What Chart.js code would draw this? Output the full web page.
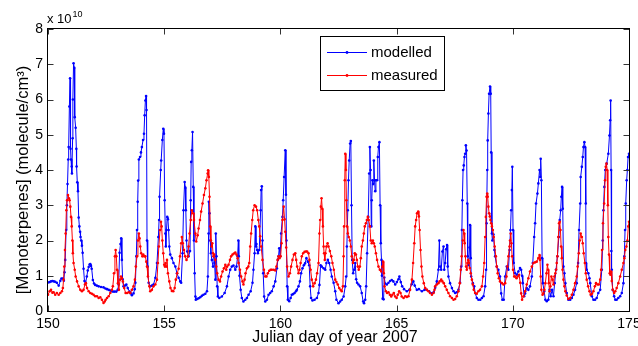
<!DOCTYPE html>
<html><head><meta charset="utf-8">
<script src="https://cdn.jsdelivr.net/npm/chart.js@4/dist/chart.umd.min.js"></script>
<style>html,body{margin:0;padding:0;background:#fff}#wrap{width:638px;height:346px;position:relative}</style>
</head><body><div id="wrap"><canvas id="c" width="638" height="346"></canvas></div>
<script>
const FONT = '"Liberation Sans", Arial, Helvetica, sans-serif';
const seriesLabels = ['modelled', 'measured'];
const xTicks = [150, 155, 160, 165, 170, 175];
const yTicks = [0, 1, 2, 3, 4, 5, 6, 7, 8];
const xTitle = 'Julian day of year 2007';
const yTitle = '[Monoterpenes] (molecule/cm³)';
const yExponent = '10';

// [day, value in 1e10 molecule/cm3]
const modelled = [
[150.00,0.81],[150.07,0.82],[150.13,0.84],[150.19,0.85],[150.25,0.84],[150.31,0.83],[150.38,0.80],[150.46,0.72],[150.53,0.86],[150.58,0.92],
[150.64,0.92],[150.68,0.86],[150.71,1.1],[150.74,1.45],[150.78,2.3],[150.81,3.0],[150.84,3.6],[150.87,4.3],[150.89,4.65],[150.92,5.8],
[150.95,6.6],[150.97,4.6],[150.99,4.3],[151.02,4.1],[151.03,3.9],[151.06,4.9],[151.07,6.0],[151.10,7.03],[151.13,6.9],[151.15,5.5],
[151.19,5.2],[151.22,4.6],[151.23,4.1],[151.26,3.65],[151.29,3.4],[151.32,2.65],[151.35,2.4],[151.38,2.25],[151.40,2.1],[151.43,2.0],
[151.46,1.85],[151.49,1.65],[151.53,1.2],[151.57,0.85],[151.62,0.80],[151.67,0.98],[151.71,1.15],[151.75,1.25],[151.79,1.32],[151.82,1.33],
[151.85,1.28],[151.88,1.2],[151.93,0.88],[151.98,0.78],[152.03,0.74],[152.10,0.72],[152.18,0.70],[152.28,0.68],[152.39,0.67],[152.47,0.64],
[152.54,0.62],[152.61,0.60],[152.68,0.58],[152.74,0.56],[152.80,0.55],[152.87,0.55],[152.94,0.55],[153.00,0.6],[153.04,0.75],[153.08,1.65],
[153.12,1.9],[153.15,2.06],[153.18,1.45],[153.21,0.9],[153.25,0.70],[153.31,0.72],[153.37,0.75],[153.43,0.65],[153.51,0.55],[153.56,0.50],
[153.61,0.45],[153.68,0.50],[153.73,0.62],[153.76,0.80],[153.80,1.55],[153.83,2.3],[153.86,3.1],[153.88,3.7],[153.91,4.3],[153.96,4.37],
[154.00,4.5],[154.04,4.65],[154.09,4.85],[154.13,5.03],[154.16,5.55],[154.19,5.97],[154.22,6.1],[154.24,5.7],[154.26,2.0],[154.29,1.26],
[154.33,0.8],[154.40,0.70],[154.47,0.72],[154.54,0.75],[154.62,0.94],[154.69,1.36],[154.75,2.1],[154.78,2.58],[154.80,3.24],[154.85,4.0],
[154.87,4.27],[154.92,4.85],[154.96,5.17],[154.99,5.03],[155.02,3.14],[155.05,2.2],[155.07,1.83],[155.10,2.3],[155.13,2.67],[155.16,2.6],
[155.19,2.3],[155.22,1.83],[155.26,1.6],[155.33,1.5],[155.40,1.36],[155.48,1.26],[155.55,1.07],[155.62,0.94],[155.69,0.84],[155.73,0.80],
[155.79,1.64],[155.83,2.86],[155.88,3.66],[155.91,3.5],[155.93,2.86],[155.96,2.0],[155.99,1.69],[156.05,1.55],[156.11,1.7],[156.14,3.14],
[156.16,4.23],[156.19,4.56],[156.22,5.08],[156.25,3.52],[156.28,2.0],[156.31,1.07],[156.34,0.41],[156.36,0.32],[156.42,0.34],[156.48,0.36],
[156.55,0.39],[156.62,0.43],[156.69,0.46],[156.77,0.49],[156.84,0.56],[156.88,0.98],[156.91,2.2],[156.92,3.1],[156.95,2.77],[156.98,2.0],
[157.01,1.64],[157.05,1.45],[157.10,1.26],[157.14,1.55],[157.17,1.36],[157.20,0.89],[157.22,2.2],[157.25,1.55],[157.28,0.7],[157.31,0.41],
[157.37,0.37],[157.48,0.41],[157.60,0.51],[157.70,0.7],[157.77,0.98],[157.84,1.17],[157.91,1.26],[157.98,1.29],[158.06,1.17],[158.11,1.26],
[158.16,1.55],[158.19,2.0],[158.21,1.55],[158.24,1.0],[158.29,0.6],[158.34,0.37],[158.41,0.27],[158.49,0.32],[158.56,0.37],[158.63,0.46],
[158.72,0.56],[158.80,0.8],[158.84,1.17],[158.89,1.64],[158.92,2.4],[158.95,1.83],[158.97,1.9],[159.00,1.73],[159.03,1.64],[159.09,1.73],
[159.15,2.86],[159.17,3.43],[159.20,3.54],[159.23,2.0],[159.26,1.07],[159.30,0.41],[159.35,0.27],[159.42,0.32],[159.49,0.46],[159.56,0.51],
[159.63,0.56],[159.71,0.7],[159.78,0.84],[159.85,1.21],[159.89,1.45],[159.92,1.55],[159.95,1.78],[159.99,1.55],[160.03,2.2],[160.09,2.67],
[160.12,3.14],[160.16,3.8],[160.21,4.56],[160.24,3.3],[160.26,2.0],[160.29,0.7],[160.32,0.32],[160.38,0.28],[160.44,0.37],[160.49,0.46],
[160.55,0.48],[160.61,0.51],[160.67,0.56],[160.71,0.6],[160.78,0.7],[160.84,0.84],[160.89,1.07],[160.95,1.21],[161.01,1.3],[161.06,1.35],
[161.12,1.5],[161.18,1.4],[161.24,1.3],[161.28,0.7],[161.32,0.37],[161.38,0.30],[161.47,0.32],[161.57,0.37],[161.64,0.51],[161.68,0.74],
[161.73,1.3],[161.78,1.26],[161.86,1.21],[161.93,1.17],[161.98,1.36],[162.04,1.45],[162.10,1.36],[162.16,1.17],[162.21,0.98],[162.29,0.8],
[162.36,0.56],[162.41,0.32],[162.50,0.22],[162.57,0.27],[162.64,0.32],[162.72,0.41],[162.79,0.7],[162.83,0.98],[162.86,1.83],[162.90,2.86],
[162.93,3.71],[162.96,4.27],[163.00,4.75],[163.03,4.82],[163.06,3.0],[163.09,1.45],[163.13,1.07],[163.17,1.17],[163.22,1.36],[163.26,0.9],
[163.30,0.8],[163.36,0.75],[163.43,0.7],[163.50,0.51],[163.56,0.27],[163.60,0.22],[163.65,0.32],[163.69,0.7],[163.73,1.64],[163.78,2.67],
[163.82,3.9],[163.85,4.65],[163.88,4.0],[163.91,2.4],[163.93,3.14],[163.96,3.71],[163.99,3.6],[164.02,4.27],[164.05,3.71],[164.08,3.4],
[164.11,3.71],[164.16,3.71],[164.19,4.37],[164.22,4.65],[164.26,4.79],[164.29,3.0],[164.32,1.92],[164.35,1.45],[164.37,1.0],[164.40,0.35],
[164.44,0.33],[164.47,0.95],[164.51,0.78],[164.58,0.75],[164.65,0.8],[164.72,0.85],[164.79,0.88],[164.86,0.84],[164.94,0.75],[165.01,0.82],
[165.08,0.9],[165.12,0.98],[165.18,0.82],[165.24,0.7],[165.32,0.62],[165.44,0.56],[165.55,0.6],[165.65,0.76],[165.72,0.84],[165.78,0.72],
[165.87,0.6],[165.96,0.62],[166.09,0.56],[166.20,0.60],[166.30,0.6],[166.40,0.56],[166.52,0.5],[166.60,0.54],[166.66,0.66],[166.73,0.84],
[166.80,1.17],[166.84,2.0],[166.87,1.26],[166.92,1.17],[166.97,1.69],[167.02,1.83],[167.05,1.17],[167.09,1.36],[167.13,1.75],[167.17,1.87],
[167.20,1.26],[167.23,0.98],[167.30,0.79],[167.38,0.65],[167.45,0.56],[167.52,0.51],[167.59,0.53],[167.66,0.6],[167.73,0.8],[167.78,1.26],
[167.81,2.3],[167.83,3.14],[167.86,4.0],[167.89,4.13],[167.92,4.37],[167.95,4.46],[167.98,4.7],[168.01,4.55],[168.04,3.05],[168.06,1.55],
[168.10,1.3],[168.14,1.8],[168.16,2.44],[168.19,1.5],[168.21,0.98],[168.28,0.79],[168.34,0.7],[168.38,0.51],[168.45,0.37],[168.52,0.32],
[168.60,0.32],[168.67,0.37],[168.74,0.42],[168.81,0.7],[168.85,1.17],[168.87,2.49],[168.90,4.0],[168.92,4.84],[168.95,5.6],[168.98,6.16],
[169.02,6.37],[169.05,6.16],[169.07,4.5],[169.10,2.2],[169.12,2.0],[169.17,2.17],[169.21,1.73],[169.24,1.55],[169.31,1.26],[169.38,1.17],
[169.45,0.98],[169.50,0.5],[169.55,0.32],[169.61,0.32],[169.67,0.98],[169.74,1.26],[169.81,1.17],[169.86,1.73],[169.90,2.3],[169.93,2.86],
[169.96,3.43],[169.98,4.09],[170.01,2.3],[170.04,1.36],[170.10,1.07],[170.17,1.03],[170.24,1.12],[170.31,1.22],[170.36,1.17],[170.40,1.0],
[170.43,0.79],[170.49,0.42],[170.53,0.5],[170.60,0.65],[170.67,0.6],[170.74,0.7],[170.82,0.98],[170.86,1.36],[170.92,2.1],[170.96,2.49],
[171.00,3.05],[171.06,3.33],[171.10,3.62],[171.15,4.0],[171.18,3.8],[171.20,4.32],[171.23,3.71],[171.26,1.5],[171.29,0.79],[171.35,0.56],
[171.40,0.32],[171.46,0.28],[171.53,0.32],[171.58,0.6],[171.63,0.42],[171.69,0.6],[171.75,0.42],[171.80,0.79],[171.86,1.17],[171.92,1.55],
[171.98,2.1],[172.02,2.58],[172.06,2.86],[172.09,3.24],[172.12,3.52],[172.15,2.9],[172.18,1.26],[172.22,1.07],[172.26,0.79],[172.32,0.51],
[172.39,0.32],[172.47,0.32],[172.54,0.37],[172.61,0.46],[172.68,0.6],[172.75,0.79],[172.81,1.36],[172.85,2.3],[172.90,3.05],[172.92,3.8],
[172.97,4.09],[173.01,4.37],[173.04,4.65],[173.08,4.79],[173.11,4.65],[173.14,3.05],[173.15,1.36],[173.18,1.17],[173.25,1.07],[173.30,0.93],
[173.33,0.79],[173.40,0.42],[173.47,0.32],[173.54,0.32],[173.61,0.37],[173.68,0.51],[173.76,0.6],[173.83,1.17],[173.87,2.0],[173.90,2.86],
[173.94,3.52],[173.98,4.0],[174.04,4.18],[174.11,4.46],[174.16,4.98],[174.19,5.41],[174.21,5.97],[174.23,4.0],[174.24,1.7],[174.26,1.17],
[174.30,0.6],[174.36,0.42],[174.41,0.32],[174.47,0.32],[174.54,0.37],[174.62,0.42],[174.69,0.51],[174.76,0.79],[174.80,1.55],[174.83,2.3],
[174.86,3.05],[174.90,3.71],[174.93,4.0],[174.96,4.37],[175.00,4.46]
];

const measured = [
[150.00,0.46],[150.07,0.56],[150.13,0.60],[150.19,0.52],[150.24,0.53],[150.31,0.46],[150.38,0.51],[150.46,0.46],[150.53,0.51],[150.60,0.56],
[150.64,0.65],[150.67,0.89],[150.70,1.26],[150.73,1.73],[150.76,2.2],[150.79,2.86],[150.82,3.14],[150.86,3.29],[150.90,3.2],[150.93,3.14],
[150.96,2.96],[150.99,2.67],[151.02,2.4],[151.05,2.0],[151.07,1.64],[151.10,1.36],[151.15,1.17],[151.19,0.98],[151.25,0.84],[151.32,0.7],
[151.39,0.6],[151.46,0.56],[151.53,0.6],[151.59,0.75],[151.63,0.79],[151.68,0.65],[151.75,0.56],[151.82,0.51],[151.89,0.49],[151.96,0.46],
[152.03,0.42],[152.11,0.42],[152.18,0.37],[152.25,0.39],[152.32,0.32],[152.39,0.23],[152.44,0.27],[152.48,0.32],[152.54,0.37],[152.61,0.42],
[152.68,0.51],[152.75,0.6],[152.79,0.7],[152.84,1.07],[152.88,1.55],[152.91,1.73],[152.94,1.55],[152.97,1.17],[153.01,0.79],[153.05,0.6],
[153.10,0.89],[153.14,0.98],[153.18,0.93],[153.22,0.84],[153.28,0.65],[153.34,0.51],[153.40,0.51],[153.47,0.53],[153.54,0.51],[153.61,0.6],
[153.68,0.7],[153.74,0.89],[153.78,1.26],[153.83,1.55],[153.87,2.0],[153.91,2.2],[153.94,2.06],[153.97,1.83],[154.01,1.64],[154.06,1.55],
[154.10,1.6],[154.14,1.55],[154.19,1.55],[154.23,1.4],[154.26,1.26],[154.30,0.98],[154.36,0.7],[154.40,0.56],[154.47,0.6],[154.54,0.7],
[154.62,0.75],[154.69,0.89],[154.73,1.36],[154.77,1.83],[154.82,2.3],[154.86,2.53],[154.89,2.4],[154.92,2.0],[154.96,1.64],[155.00,1.31],
[155.03,1.26],[155.06,1.36],[155.09,1.26],[155.12,1.45],[155.16,1.07],[155.22,0.84],[155.27,0.65],[155.33,0.57],[155.39,0.56],[155.45,0.65],
[155.50,0.89],[155.56,1.07],[155.62,1.2],[155.68,1.55],[155.73,1.92],[155.76,2.1],[155.80,1.92],[155.85,1.73],[155.90,1.55],[155.96,1.45],
[156.02,1.55],[156.05,1.83],[156.09,2.2],[156.14,2.58],[156.19,2.86],[156.25,2.77],[156.28,2.58],[156.34,2.2],[156.38,1.97],[156.44,2.15],
[156.48,2.34],[156.54,2.58],[156.59,2.82],[156.65,3.05],[156.71,3.29],[156.77,3.48],[156.82,3.71],[156.87,3.9],[156.89,3.99],[156.92,3.8],
[156.95,3.24],[156.98,2.4],[157.01,2.0],[157.04,1.83],[157.07,1.92],[157.10,1.64],[157.12,1.55],[157.15,1.6],[157.20,1.45],[157.24,1.26],
[157.28,1.07],[157.34,0.89],[157.40,0.84],[157.45,0.98],[157.51,1.12],[157.57,1.21],[157.63,1.31],[157.67,1.17],[157.71,1.26],[157.77,1.31],
[157.83,1.45],[157.88,1.55],[157.94,1.6],[158.00,1.63],[158.06,1.66],[158.11,1.6],[158.16,1.5],[158.20,1.36],[158.26,1.17],[158.31,0.98],
[158.37,0.84],[158.41,0.75],[158.46,0.89],[158.50,1.07],[158.56,1.21],[158.62,1.26],[158.66,1.36],[158.70,1.83],[158.74,2.2],[158.79,2.58],
[158.83,2.86],[158.89,3.0],[158.95,2.96],[159.00,2.86],[159.05,2.58],[159.09,2.4],[159.13,2.12],[159.17,1.83],[159.23,1.45],[159.29,1.17],
[159.35,0.98],[159.40,0.98],[159.46,1.07],[159.52,1.14],[159.58,1.17],[159.63,1.17],[159.71,1.17],[159.78,1.15],[159.83,1.26],[159.88,1.45],
[159.92,1.55],[159.96,1.5],[160.01,1.55],[160.05,1.92],[160.09,2.58],[160.14,2.96],[160.18,2.6],[160.21,2.25],[160.25,1.8],[160.29,1.26],
[160.35,0.98],[160.41,1.07],[160.46,1.26],[160.52,1.45],[160.58,1.6],[160.64,1.64],[160.68,1.45],[160.72,1.26],[160.78,1.07],[160.82,1.17],
[160.87,1.36],[160.92,1.55],[160.98,1.64],[161.04,1.68],[161.10,1.69],[161.15,1.69],[161.21,1.64],[161.25,1.45],[161.30,1.17],[161.35,0.89],
[161.41,0.7],[161.47,0.79],[161.53,0.89],[161.58,1.07],[161.64,1.36],[161.68,2.2],[161.71,2.58],[161.74,2.96],[161.77,3.2],[161.80,2.9],
[161.83,2.4],[161.86,1.83],[161.88,1.64],[161.91,1.45],[161.94,1.64],[161.98,1.83],[162.03,1.92],[162.07,1.83],[162.13,1.7],[162.19,1.55],
[162.24,1.36],[162.30,1.17],[162.36,0.89],[162.41,0.82],[162.47,0.75],[162.53,0.65],[162.59,0.6],[162.64,0.56],[162.69,0.7],[162.72,1.55],
[162.74,2.4],[162.77,3.71],[162.79,4.46],[162.82,4.0],[162.84,3.14],[162.87,2.4],[162.90,2.2],[162.94,2.1],[162.99,2.0],[163.03,1.83],
[163.07,1.55],[163.12,1.36],[163.16,1.45],[163.20,1.64],[163.25,1.6],[163.29,1.45],[163.33,1.26],[163.37,1.17],[163.42,1.26],[163.46,1.5],
[163.50,1.83],[163.55,2.0],[163.59,2.2],[163.63,2.4],[163.68,2.49],[163.72,2.58],[163.76,2.67],[163.80,2.58],[163.85,2.4],[163.89,2.0],
[163.93,1.92],[163.98,2.0],[164.02,1.92],[164.06,1.83],[164.11,1.64],[164.16,1.45],[164.22,1.26],[164.28,1.17],[164.34,1.12],[164.39,1.26],
[164.42,1.4],[164.45,1.07],[164.48,0.7],[164.54,0.56],[164.59,0.51],[164.65,0.53],[164.71,0.46],[164.77,0.41],[164.82,0.46],[164.88,0.51],
[164.94,0.41],[165.00,0.37],[165.05,0.46],[165.11,0.56],[165.17,0.51],[165.22,0.41],[165.30,0.37],[165.37,0.42],[165.44,0.40],[165.51,0.42],
[165.58,0.6],[165.66,0.89],[165.71,1.36],[165.76,1.92],[165.80,2.4],[165.84,2.58],[165.88,2.77],[165.93,2.82],[165.96,2.68],[165.99,2.3],
[166.03,1.73],[166.07,1.26],[166.11,0.98],[166.17,0.79],[166.23,0.65],[166.30,0.6],[166.37,0.56],[166.44,0.51],[166.52,0.46],[166.59,0.51],
[166.63,0.6],[166.66,0.7],[166.73,0.75],[166.80,0.79],[166.85,0.84],[166.92,0.89],[166.97,0.84],[167.03,0.79],[167.09,0.7],[167.16,0.6],
[167.23,0.51],[167.30,0.42],[167.38,0.37],[167.45,0.32],[167.52,0.34],[167.59,0.42],[167.66,0.56],[167.72,0.79],[167.76,1.17],[167.80,1.55],
[167.85,2.0],[167.88,2.3],[167.91,2.2],[167.93,1.92],[167.96,1.55],[167.99,1.26],[168.02,1.17],[168.05,1.36],[168.08,1.45],[168.11,1.36],
[168.15,1.22],[168.19,1.07],[168.24,0.89],[168.28,0.75],[168.32,0.6],[168.38,0.51],[168.45,0.49],[168.52,0.56],[168.59,0.6],[168.67,0.7],
[168.72,0.98],[168.77,1.36],[168.81,2.1],[168.84,2.67],[168.87,3.24],[168.90,3.33],[168.92,3.24],[168.95,2.96],[168.98,2.77],[169.01,2.68],
[169.04,2.58],[169.07,2.49],[169.10,2.4],[169.14,2.3],[169.18,2.1],[169.22,1.83],[169.27,1.55],[169.31,1.26],[169.35,1.07],[169.40,0.93],
[169.45,0.84],[169.53,0.79],[169.60,0.75],[169.67,0.79],[169.73,0.98],[169.77,1.26],[169.81,1.55],[169.86,1.83],[169.88,2.0],[169.91,2.2],
[169.94,1.92],[169.97,1.55],[170.01,1.17],[170.06,0.98],[170.10,0.98],[170.16,0.93],[170.21,0.98],[170.27,1.03],[170.32,0.8],[170.36,0.5],
[170.40,0.32],[170.46,0.42],[170.53,0.56],[170.60,0.75],[170.67,0.93],[170.74,1.12],[170.82,1.26],[170.89,1.36],[170.96,1.38],[171.03,1.4],
[171.10,1.5],[171.15,1.59],[171.17,1.45],[171.20,0.98],[171.23,0.6],[171.28,0.46],[171.32,0.5],[171.36,0.6],[171.40,0.79],[171.45,1.07],
[171.49,1.31],[171.52,1.17],[171.55,0.79],[171.58,0.56],[171.62,0.7],[171.66,0.98],[171.71,0.89],[171.75,0.75],[171.79,0.98],[171.83,1.07],
[171.86,1.17],[171.89,1.36],[171.92,1.55],[171.96,2.1],[171.99,2.49],[172.02,2.53],[172.05,2.3],[172.08,1.83],[172.11,1.5],[172.14,1.17],
[172.18,0.89],[172.22,0.7],[172.26,0.56],[172.32,0.44],[172.39,0.34],[172.47,0.37],[172.54,0.46],[172.61,0.6],[172.68,0.79],[172.75,0.98],
[172.79,1.26],[172.84,1.64],[172.88,2.0],[172.92,2.2],[172.97,2.1],[173.01,1.92],[173.05,1.64],[173.10,1.36],[173.14,1.07],[173.18,0.89],
[173.24,0.7],[173.30,0.56],[173.35,0.46],[173.41,0.49],[173.47,0.56],[173.53,0.7],[173.58,0.79],[173.64,0.75],[173.70,0.75],[173.76,0.89],
[173.80,1.17],[173.84,1.73],[173.88,2.49],[173.93,3.05],[173.97,3.71],[174.00,4.09],[174.03,4.18],[174.06,4.0],[174.09,3.0],[174.11,2.1],
[174.14,1.6],[174.17,1.07],[174.20,1.03],[174.23,1.12],[174.26,0.85],[174.30,0.6],[174.36,0.51],[174.41,0.56],[174.47,0.65],[174.54,0.79],
[174.62,0.98],[174.69,1.17],[174.76,1.36],[174.80,1.5],[174.84,1.73],[174.89,1.83],[174.93,2.0],[174.97,2.4],[175.00,2.53]
];

const seriesColors = ['#0000ff', '#ff0000'];

const decor = {
  id: 'decor',
  afterDraw(chart) {
    const ctx = chart.ctx;
    const {left, right, top, bottom} = chart.chartArea;
    const xs = chart.scales.x, ys = chart.scales.y;
    const L = Math.round(left) - 0.5, R = Math.round(right) + 0.5, T = Math.round(top) - 0.5, B = Math.round(bottom) + 0.5;
    ctx.save();
    // inward ticks
    ctx.strokeStyle = '#333';
    ctx.lineWidth = 1;
    ctx.beginPath();
    xTicks.forEach(v => {
      const px = Math.round(xs.getPixelForValue(v)) + 0.5;
      ctx.moveTo(px, B); ctx.lineTo(px, B - 6);
      ctx.moveTo(px, T); ctx.lineTo(px, T + 6);
    });
    yTicks.forEach(v => {
      const py = Math.round(ys.getPixelForValue(v)) + 0.5;
      ctx.moveTo(L, py); ctx.lineTo(L + 6, py);
      ctx.moveTo(R, py); ctx.lineTo(R - 6, py);
    });
    ctx.stroke();
    // frame
    ctx.strokeStyle = '#000';
    ctx.strokeRect(L, T, R - L, B - T);

    // exponent label
    ctx.fillStyle = '#000';
    ctx.textBaseline = 'alphabetic';
    ctx.textAlign = 'left';
    ctx.font = '13px ' + FONT;
    const base = 'x 10';
    ctx.fillText(base, 47, 23);
    const w = ctx.measureText(base).width;
    ctx.font = '9px ' + FONT;
    ctx.fillText(yExponent, 47 + w + 1, 17);

    // x title
    ctx.font = '16px ' + FONT;
    ctx.textAlign = 'center';
    ctx.fillText(xTitle, 335, 342);
    // y title
    ctx.save();
    ctx.font = '16.5px ' + FONT;
    ctx.translate(28, 180);
    ctx.rotate(-Math.PI / 2);
    ctx.fillText(yTitle, 0, 0);
    ctx.restore();

    // legend
    const bx = 320.5, by = 36.5, bw = 124, bh = 54;
    ctx.fillStyle = '#fff';
    ctx.fillRect(bx, by, bw, bh);
    ctx.strokeStyle = '#000';
    ctx.lineWidth = 1;
    ctx.strokeRect(bx, by, bw, bh);
    const rows = [52.5, 75.5];
    chart.data.datasets.forEach((ds, i) => {
      const yy = rows[i];
      ctx.strokeStyle = ds.borderColor;
      ctx.lineWidth = 1;
      ctx.beginPath(); ctx.moveTo(327, yy); ctx.lineTo(367, yy); ctx.stroke();
      ctx.fillStyle = ds.borderColor;
      ctx.beginPath(); ctx.arc(347, yy, 1.4, 0, Math.PI * 2); ctx.fill();
      ctx.fillStyle = '#000';
      ctx.font = '15px ' + FONT;
      ctx.textAlign = 'left';
      ctx.textBaseline = 'middle';
      ctx.fillText(ds.label, 371, yy);
    });
    ctx.restore();
  }
};

const toXY = arr => arr.map(p => ({x: p[0], y: p[1]}));

new Chart(document.getElementById('c'), {
  type: 'line',
  data: {
    datasets: [
      {label: seriesLabels[0], data: toXY(modelled), borderColor: seriesColors[0], backgroundColor: seriesColors[0],
       borderWidth: 1, pointRadius: 1.3, pointBorderWidth: 0, pointBackgroundColor: seriesColors[0], tension: 0, order: 1, fill: false},
      {label: seriesLabels[1], data: toXY(measured), borderColor: seriesColors[1], backgroundColor: seriesColors[1],
       borderWidth: 1, pointRadius: 1.3, pointBorderWidth: 0, pointBackgroundColor: seriesColors[1], tension: 0, order: 0, fill: false}
    ]
  },
  options: {
    responsive: false,
    animation: false,
    devicePixelRatio: 1,
    layout: {padding: {top: 29, right: 9, left: 0, bottom: 0}, autoPadding: false},
    plugins: {legend: {display: false}, tooltip: {enabled: false}},
    scales: {
      x: {
        type: 'linear', min: 150, max: 175,
        afterBuildTicks: s => { s.ticks = xTicks.map(v => ({value: v})); },
        ticks: {font: {family: FONT, size: 14}, color: '#000', padding: 5, maxRotation: 0, autoSkip: false},
        grid: {display: false, drawTicks: false},
        border: {display: false},
        afterFit: s => { s.height = 35; s.paddingLeft = 0; s.paddingRight = 0; }
      },
      y: {
        type: 'linear', min: 0, max: 8,
        afterBuildTicks: s => { s.ticks = yTicks.map(v => ({value: v})); },
        ticks: {font: {family: FONT, size: 14}, color: '#000', padding: 5},
        grid: {display: false, drawTicks: false},
        border: {display: false},
        afterFit: s => { s.width = 48; }
      }
    }
  },
  plugins: [decor]
});
</script>
</body></html>
